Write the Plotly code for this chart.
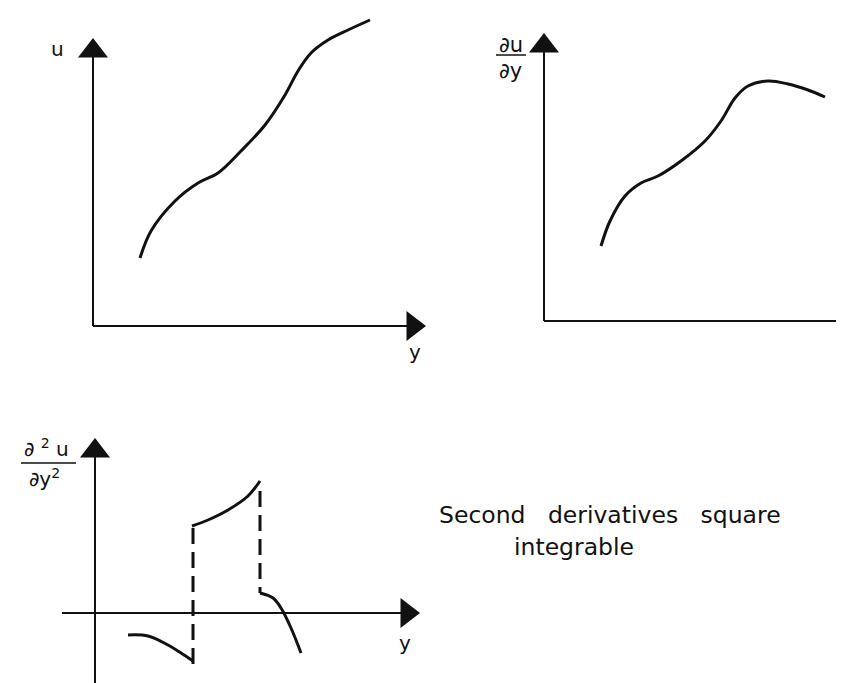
import plotly.graph_objects as go

W, H = 844, 683
UNIT = 10  # px per data unit in every panel

# --- panel A : u(y) ---
a_curve_x = [4.7, 5.8, 8.2, 10.5, 12.5, 14.8, 17.2, 19.2, 20.5, 21.8, 23.5, 25.5, 27.7]
a_curve_y = [6.8, 9.5, 12.5, 14.3, 15.3, 17.5, 20.1, 23.1, 25.5, 27.3, 28.6, 29.6, 30.6]
a_axis_x = [0, 32.0]
a_axis_y = [0, 27.5]

# --- panel B : du/dy ---
b_curve_x = [5.7, 6.6, 8.1, 9.7, 11.4, 13.7, 16.1, 17.7, 19.1, 20.4, 22.4, 24.4, 26.4, 28.1]
b_curve_y = [7.5, 10.0, 12.5, 13.8, 14.5, 16.0, 18.0, 20.0, 22.3, 23.5, 24.0, 23.7, 23.1, 22.4]
b_axis_x = [0, 30.2]
b_axis_y = [0, 27.5]

# --- panel C : d2u/dy2, three pieces and two jumps ---
c_seg1_x = [3.3, 5.3, 7.3, 8.6, 9.8]
c_seg1_y = [-2.2, -2.3, -3.2, -4.0, -4.8]
c_seg2_x = [9.7, 11.3, 13.3, 15.3, 16.5]
c_seg2_y = [8.7, 9.3, 10.3, 11.7, 13.2]
c_seg3_x = [16.5, 17.8, 18.6, 19.6, 20.6]
c_seg3_y = [2.0, 1.5, 0.5, -1.5, -4.0]
c_jump1_x = [9.8, 9.8]
c_jump1_y = [8.5, -5.5]
c_jump2_x = [16.5, 16.5]
c_jump2_y = [12.2, 2.0]
c_axis_x = [-3.3, 31.2]
c_axis_y = [-7.8, 16.2]

INK = "#111111"
FONT = "DejaVu Sans"
SP = "\u00a0"

# panel placement: origin in px, box in px (x0, x1, y0, y1)
panels = {
    "A": dict(origin=(85, 318), box=(0, 430, 0, 370)),
    "B": dict(origin=(536, 313), box=(440, 844, 0, 370)),
    "C": dict(origin=(87, 605), box=(0, 430, 395, 683)),
}

fig = go.Figure()


def axis_cfg(p):
    ox, oy = p["origin"]
    x0, x1, y0, y1 = p["box"]
    xa = dict(domain=[x0 / W, x1 / W], range=[(x0 - ox) / UNIT, (x1 - ox) / UNIT],
              visible=False, fixedrange=True)
    ya = dict(domain=[1 - y1 / H, 1 - y0 / H], range=[(oy - y1) / UNIT, (oy - y0) / UNIT],
              visible=False, fixedrange=True)
    return xa, ya


def add_axes(ax_x, ax_y, xr, yr):
    kw = dict(xaxis=xr, yaxis=yr, showlegend=False, hoverinfo="skip")
    fig.add_trace(go.Scatter(x=ax_x, y=[0, 0], mode="lines", line=dict(color=INK, width=2), **kw))
    fig.add_trace(go.Scatter(x=[0, 0], y=ax_y, mode="lines", line=dict(color=INK, width=2), **kw))
    fig.add_trace(go.Scatter(x=[ax_x[1]], y=[0], mode="markers",
                             marker=dict(symbol="triangle-right", size=26, color=INK), **kw))
    fig.add_trace(go.Scatter(x=[0], y=[ax_y[1]], mode="markers",
                             marker=dict(symbol="triangle-up", size=26, color=INK), **kw))


def add_curve(xs, ys, xr, yr, dash="solid"):
    fig.add_trace(go.Scatter(x=xs, y=ys, mode="lines", xaxis=xr, yaxis=yr,
                             line=dict(color=INK, width=3, shape="spline", dash=dash),
                             showlegend=False, hoverinfo="skip"))


add_axes(a_axis_x, a_axis_y, "x", "y")
add_curve(a_curve_x, a_curve_y, "x", "y")

add_axes(b_axis_x, b_axis_y, "x2", "y2")
add_curve(b_curve_x, b_curve_y, "x2", "y2")

add_axes(c_axis_x, c_axis_y, "x3", "y3")
add_curve(c_jump1_x, c_jump1_y, "x3", "y3", dash="16px,8px")
add_curve(c_jump2_x, c_jump2_y, "x3", "y3", dash="16px,8px")
add_curve(c_seg1_x, c_seg1_y, "x3", "y3")
add_curve(c_seg2_x, c_seg2_y, "x3", "y3")
add_curve(c_seg3_x, c_seg3_y, "x3", "y3")

xa1, ya1 = axis_cfg(panels["A"])
xa2, ya2 = axis_cfg(panels["B"])
xa3, ya3 = axis_cfg(panels["C"])
ya2["anchor"] = "x2"
xa2["anchor"] = "y2"
ya3["anchor"] = "x3"
xa3["anchor"] = "y3"


def label(text, px, py, size=20, anchor="center"):
    return dict(text=text, x=px / W, y=1 - py / H, xref="paper", yref="paper",
                xanchor=anchor, yanchor="middle", showarrow=False,
                font=dict(family=FONT, size=size, color=INK))


annotations = [
    label("u", 49, 41),
    label("y", 407, 344),
    label("∂u", 503, 37, size=21),
    label("∂y", 502, 63, size=21),
    label("y", 842, 345),
    label("∂" + SP + "<sup>2</sup>" + SP + "u", 38, 440),
    label("∂y<sup>2</sup>", 36, 470),
    label("y", 397, 635),
    label("Second" + SP * 3 + "derivatives" + SP * 3 + "square", 429, 507, size=23.5, anchor="left"),
    label("integrable", 504, 539, size=23.5, anchor="left"),
]

shapes = [
    dict(type="line", xref="paper", yref="paper", x0=488 / W, x1=518 / W,
         y0=1 - 47 / H, y1=1 - 47 / H, line=dict(color=INK, width=1.5)),
    dict(type="line", xref="paper", yref="paper", x0=13 / W, x1=68 / W,
         y0=1 - 455 / H, y1=1 - 455 / H, line=dict(color=INK, width=1.5)),
]

fig.update_layout(
    width=W, height=H, margin=dict(l=0, r=0, t=0, b=0),
    paper_bgcolor="white", plot_bgcolor="white", showlegend=False,
    xaxis=xa1, yaxis=ya1, xaxis2=xa2, yaxis2=ya2, xaxis3=xa3, yaxis3=ya3,
    annotations=annotations, shapes=shapes,
)

fig.write_html("out.html")
